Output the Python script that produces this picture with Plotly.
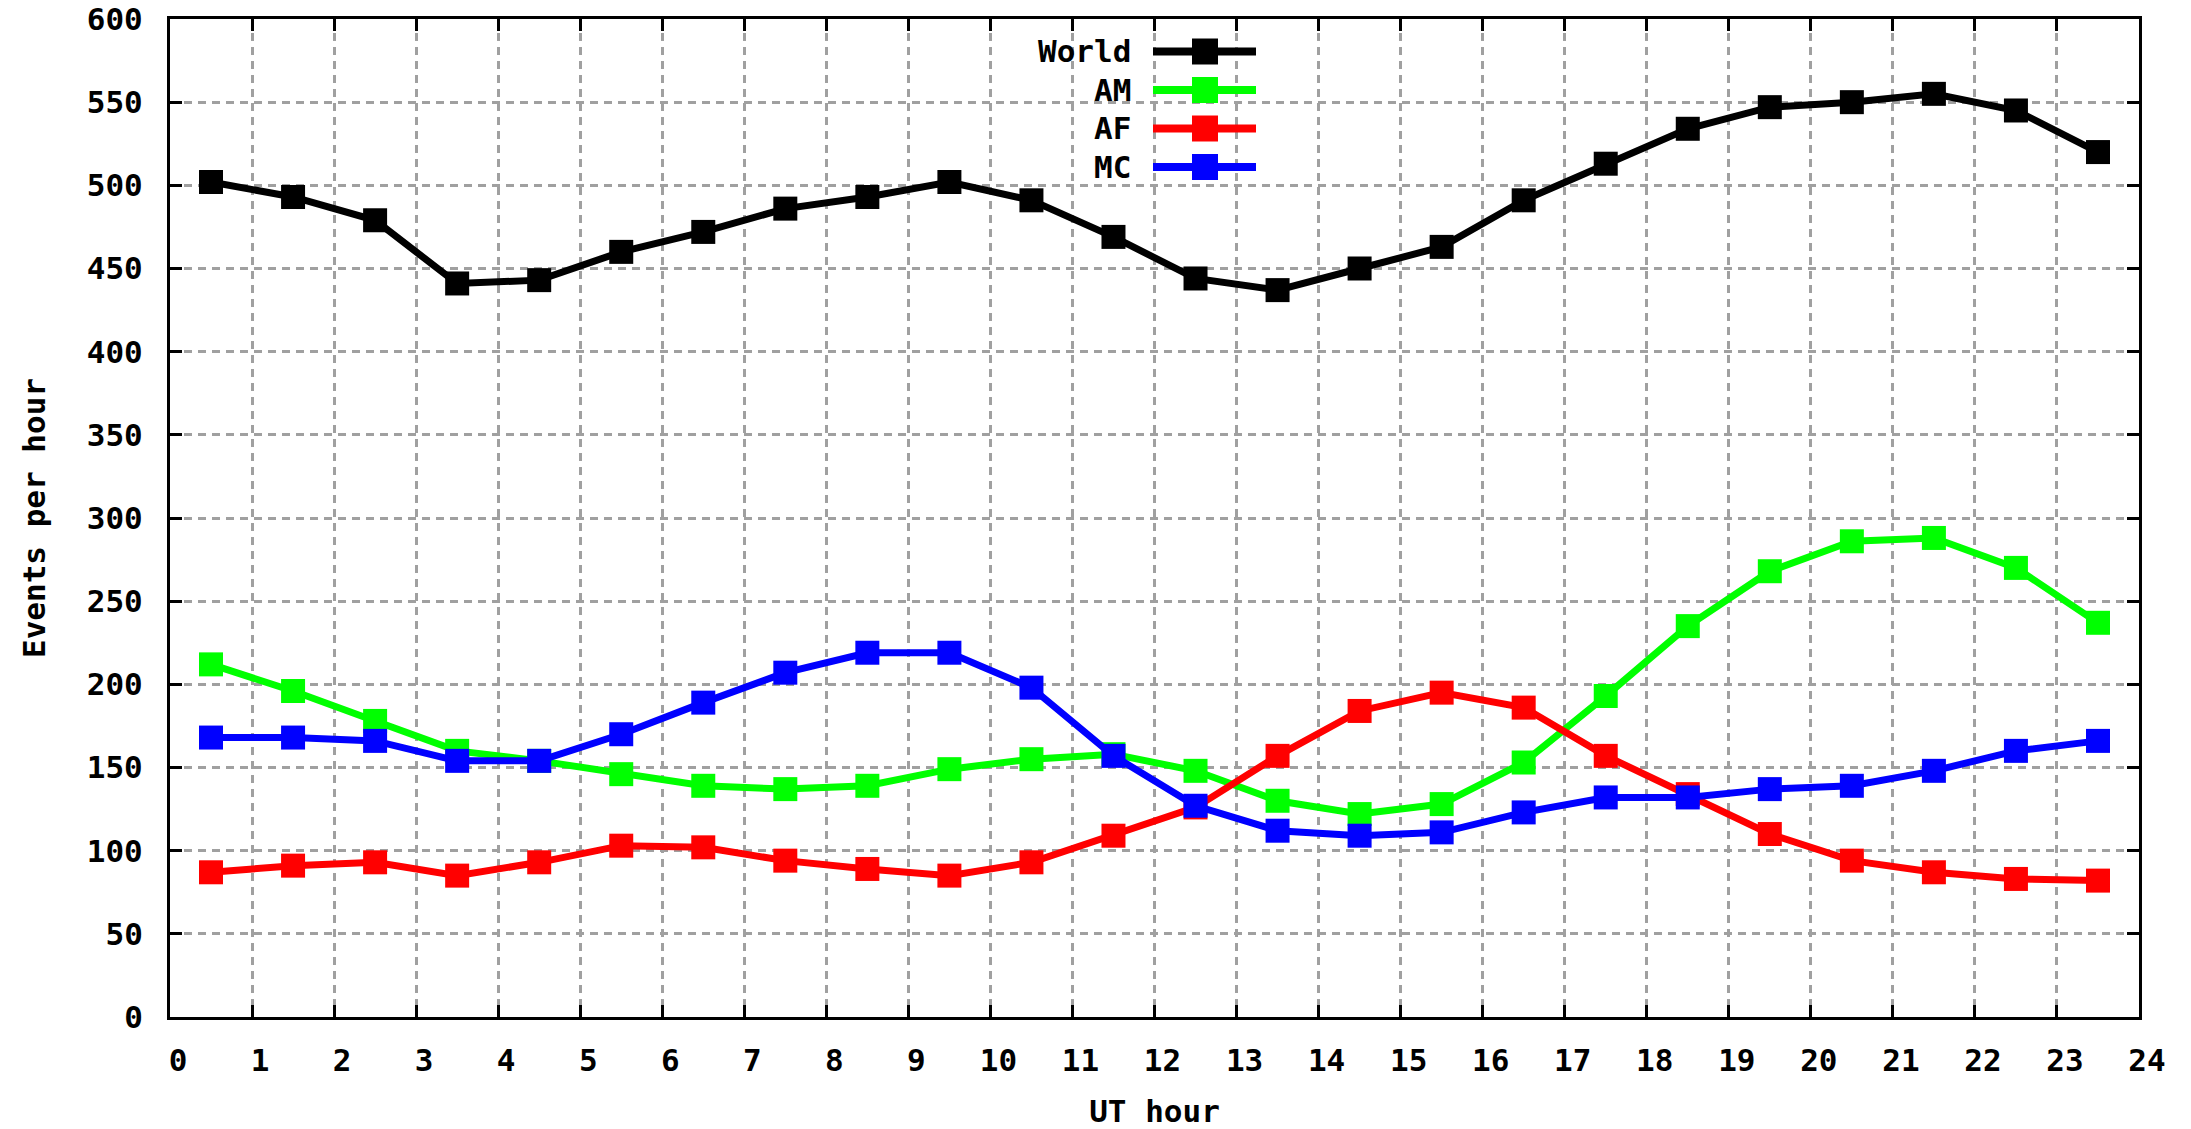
import plotly.graph_objects as go

hours = [h + 0.5 for h in range(24)]
world = [502, 493, 479, 441, 443, 460, 472, 486, 493, 502, 491, 469, 444, 437, 450, 463,
         491, 513, 534, 547, 550, 555, 545, 520]
am = [212, 196, 178, 160, 154, 146, 139, 137, 139, 149, 155, 158, 148, 130, 122, 128,
      153, 193, 235, 268, 286, 288, 270, 237]
af = [87, 91, 93, 85, 93, 103, 102, 94, 89, 85, 93, 109, 126, 157, 184, 195,
      186, 157, 134, 110, 94, 87, 83, 82]
mc = [168, 168, 166, 154, 154, 170, 189, 207, 219, 219, 198, 157, 127, 112, 109, 111,
      123, 132, 132, 137, 139, 148, 160, 166]

names = ["World", "AM", "AF", "MC"]
series = [world, am, af, mc]
colors = ["#000000", "#00ff00", "#ff0000", "#0000ff"]

x_ticks = list(range(0, 25))
y_ticks = list(range(0, 601, 50))

W, H = 2191, 1129
L, R, T, B = 170, 52, 19, 112
FONT = dict(family="DejaVu Sans Mono", size=31, color="#000000", weight="bold")

fig = go.Figure()
for n, s, c in zip(names, series, colors):
    fig.add_trace(go.Scatter(
        x=hours, y=s, name=n, mode="lines+markers",
        line=dict(color=c, width=7),
        marker=dict(symbol="square", size=24, color=c, line=dict(width=0)),
        showlegend=False,
    ))

# manual gnuplot-style legend (text right-aligned, sample to the right)
pw = W - L - R
ph = H - T - B
def px_x(p):
    return (p - L) / pw
def px_y(p):
    return 1 - (p - T) / ph

leg_text_right = 1133
leg_line = (1153, 1256)
leg_mark = (1192, 1218)
leg_y0 = 51.5
leg_dy = 38.5
shapes = []
annotations = []
for i, (n, c) in enumerate(zip(names, colors)):
    cy = leg_y0 + i * leg_dy
    shapes.append(dict(type="line", xref="paper", yref="paper",
                       x0=px_x(leg_line[0]), x1=px_x(leg_line[1]),
                       y0=px_y(cy), y1=px_y(cy), line=dict(color=c, width=8)))
    shapes.append(dict(type="rect", xref="paper", yref="paper",
                       x0=px_x(leg_mark[0]), x1=px_x(leg_mark[1]),
                       y0=px_y(cy + 13), y1=px_y(cy - 13),
                       fillcolor=c, line=dict(width=0)))
    annotations.append(dict(text=n, xref="paper", yref="paper",
                            x=px_x(leg_text_right), y=px_y(cy),
                            xanchor="right", yanchor="middle", showarrow=False,
                            font=FONT))

axis_common = dict(
    showline=True, linecolor="#000000", linewidth=3, mirror="allticks",
    ticks="inside", ticklen=12, tickwidth=3, tickcolor="#000000",
    showgrid=True, gridcolor="#a0a0a0", gridwidth=2.5, griddash="8px,6px",
    zeroline=False, tickfont=FONT, automargin=False,
)

fig.update_layout(
    width=W, height=H,
    margin=dict(l=L, r=R, t=T, b=B, autoexpand=False),
    plot_bgcolor="#ffffff", paper_bgcolor="#ffffff",
    font=FONT,
    shapes=shapes, annotations=annotations,
    xaxis=dict(range=[0, 24], tickvals=x_ticks, ticktext=[str(v) for v in x_ticks],
               title=dict(text="UT hour", font=FONT, standoff=27),
               ticklabelstandoff=14, ticklabelshift=8, **axis_common),
    yaxis=dict(range=[0, 600], tickvals=y_ticks, ticktext=[str(v) for v in y_ticks],
               title=dict(text="Events per hour", font=FONT, standoff=32),
               ticklabelstandoff=18, **axis_common),
)

fig.write_html("out.html")
